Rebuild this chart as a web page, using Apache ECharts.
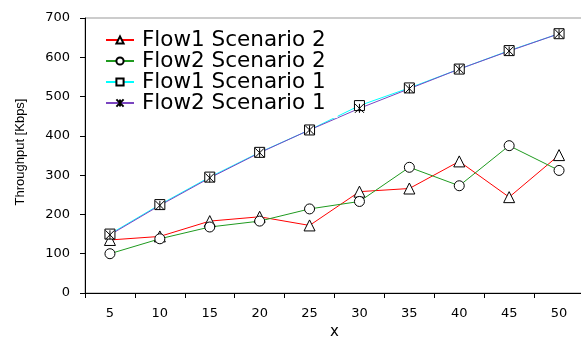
<!DOCTYPE html>
<html><head><meta charset="utf-8">
<script src="https://cdn.jsdelivr.net/npm/echarts@6/dist/echarts.min.js"></script>
<style>html,body{margin:0;padding:0;background:#fff}#c{width:581px;height:338px}</style>
</head><body><div id="c"></div>
<script>
const categories = ['5','10','15','20','25','30','35','40','45','50'];
const flow1Scenario2 = [135,144,183,194,172,258,266,335,244,351];
const flow2Scenario2 = [100,138,168,183,214,233,320,273,375,312];
const flow1Scenario1 = [150,225,295,358,415,477,522,570,617,660];
const flow2Scenario1 = [148,223,293,357,415,470,520,570,616,660];
const seriesNames = ['Flow1 Scenario 2','Flow2 Scenario 2','Flow1 Scenario 1','Flow2 Scenario 1'];
const yTitle = 'Throughput [Kbps]';

const F = '"DejaVu Sans", "Liberation Sans", Arial, sans-serif';
const FA = '"Liberation Sans", Arial, sans-serif';
const star = 'path://M5,0 L5,10 M0,0 L10,10 M10,0 L0,10';
function mk(name, data, color, symbol, size, fill){
  return {name, type:'line', data, symbol, symbolSize:size, showSymbol:true, color:color,
    lineStyle:{color, width:1}, itemStyle:{color:fill, borderColor:'#000', borderWidth:1},
    emphasis:{disabled:true}, animation:false, z:2};
}
const chart = echarts.init(document.getElementById('c'), null, {renderer:'canvas'});
chart.setOption({
  animation:false,
  grid:{left:85, top:18, right:-3, bottom:45, outerBoundsMode:'none', containLabel:false,
    show:true, borderColor:'#999', borderWidth:1, backgroundColor:'transparent'},
  legend:{show:true, left:100, top:26, orient:'vertical', itemGap:-1, itemWidth:28, itemHeight:9,
    backgroundColor:'#fff', padding:[3,12,4,5],
    textStyle:{fontFamily:F, fontSize:21.5, lineHeight:20, color:'#000', padding:[0,0,0,3]},
    data:seriesNames},
  graphic:[{type:'text', x:20, y:152, rotation:Math.PI/2,
    style:{text:yTitle, font:'13px ' + FA, fill:'#000', align:'center', verticalAlign:'middle'}}],
  xAxis:{type:'category', data:categories, boundaryGap:true,
    name:'x', nameLocation:'middle', nameGap:30, nameTextStyle:{fontFamily:F, fontSize:15, color:'#000'},
    axisLine:{lineStyle:{color:'#000', width:1}},
    axisTick:{show:true, alignWithLabel:false, length:5, lineStyle:{color:'#000'}},
    axisLabel:{fontFamily:F, fontSize:13, color:'#000', margin:14},
    splitLine:{show:false}},
  yAxis:{type:'value', min:0, max:700, interval:100,
    axisLine:{show:true, lineStyle:{color:'#000', width:1}},
    axisTick:{show:true, length:5, lineStyle:{color:'#000'}},
    axisLabel:{fontFamily:F, fontSize:13, color:'#000', margin:15},
    splitLine:{show:false}},
  series:[
    mk(seriesNames[0], flow1Scenario2, '#ff0000', 'triangle', 11, '#fff'),
    mk(seriesNames[1], flow2Scenario2, '#1f9a1f', 'circle', 10, '#fff'),
    mk(seriesNames[2], flow1Scenario1, '#00ffff', 'rect', 10, '#fff'),
    mk(seriesNames[3], flow2Scenario1, '#7a45c0', star, 9, 'none')
  ]
});
</script></body></html>
